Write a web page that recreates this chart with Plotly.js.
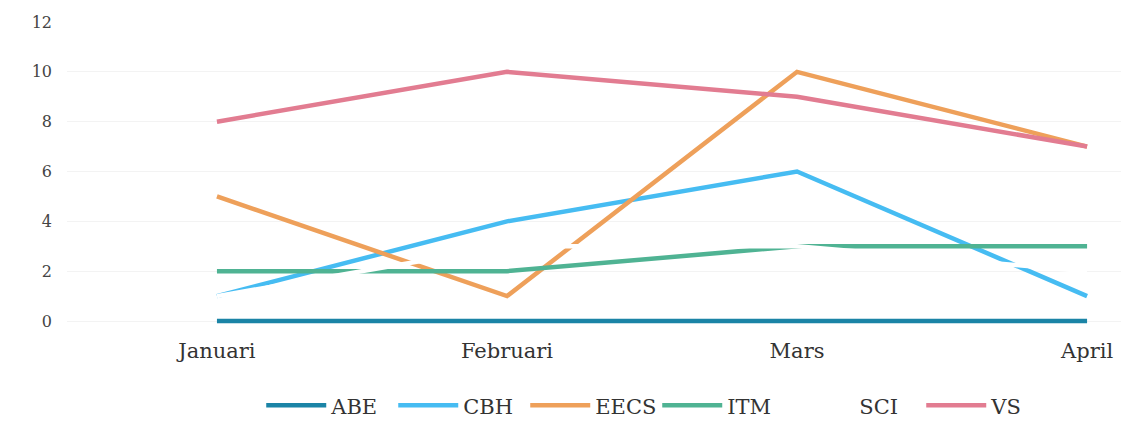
<!DOCTYPE html>
<html><head><meta charset="utf-8">
<script src="https://cdn.plot.ly/plotly-3.0.1.min.js"></script>
<style>html,body{margin:0;padding:0;background:#fff}#chart{width:1121px;height:434px}</style>
</head><body><div id="chart"></div>
<script>
const months = ["Januari", "Februari", "Mars", "April"];
const seriesNames = ["ABE", "CBH", "EECS", "ITM", "SCI", "VS"];
const ABE = [0, 0, 0, 0];
const CBH = [1, 4, 6, 1];
const EECS = [5, 1, 10, 7];
const ITM = [2, 2, 3, 3];
const SCI = [1, 3, 3, 2];
const VS = [8, 10, 9, 7];
const colors = ["#1b84a6", "#46bcf2", "#eea05a", "#4fb393", "#ffffff", "#e27c91"];
const values = [ABE, CBH, EECS, ITM, SCI, VS];
const FONT = "DejaVu Serif, Liberation Serif, serif";
const data = seriesNames.map((n, i) => ({
  type: "scatter", mode: "lines", name: n, x: months, y: values[i],
  line: {color: colors[i], width: 4.5}
}));
const layout = {
  width: 1121, height: 434,
  margin: {l: 67, r: 0, t: 22, b: 108},
  paper_bgcolor: "#fff", plot_bgcolor: "#fff",
  showlegend: true,
  legend: {orientation: "h", x: 0.56, xanchor: "center", y: -0.262, yanchor: "middle",
    font: {family: FONT, size: 21, color: "#333"}, itemwidth: 60, tracegroupgap: 0,
    entrywidth: 57, entrywidthmode: "pixels"},
  xaxis: {type: "category", range: [-0.517, 3.117], showgrid: false, zeroline: false,
    showline: false, ticks: "", tickfont: {family: FONT, size: 21, color: "#333"}, ticklabelstandoff: 10},
  yaxis: {range: [-0.2, 12], tickvals: [0, 2, 4, 6, 8, 10, 12], showgrid: true, gridcolor: "#f3f3f3", zeroline: false,
    showline: false, ticks: "", tickfont: {family: FONT, size: 16, color: "#444"}, ticklabelstandoff: 14}
};
Plotly.newPlot("chart", data, layout, {displayModeBar: false, staticPlot: true});
</script></body></html>
